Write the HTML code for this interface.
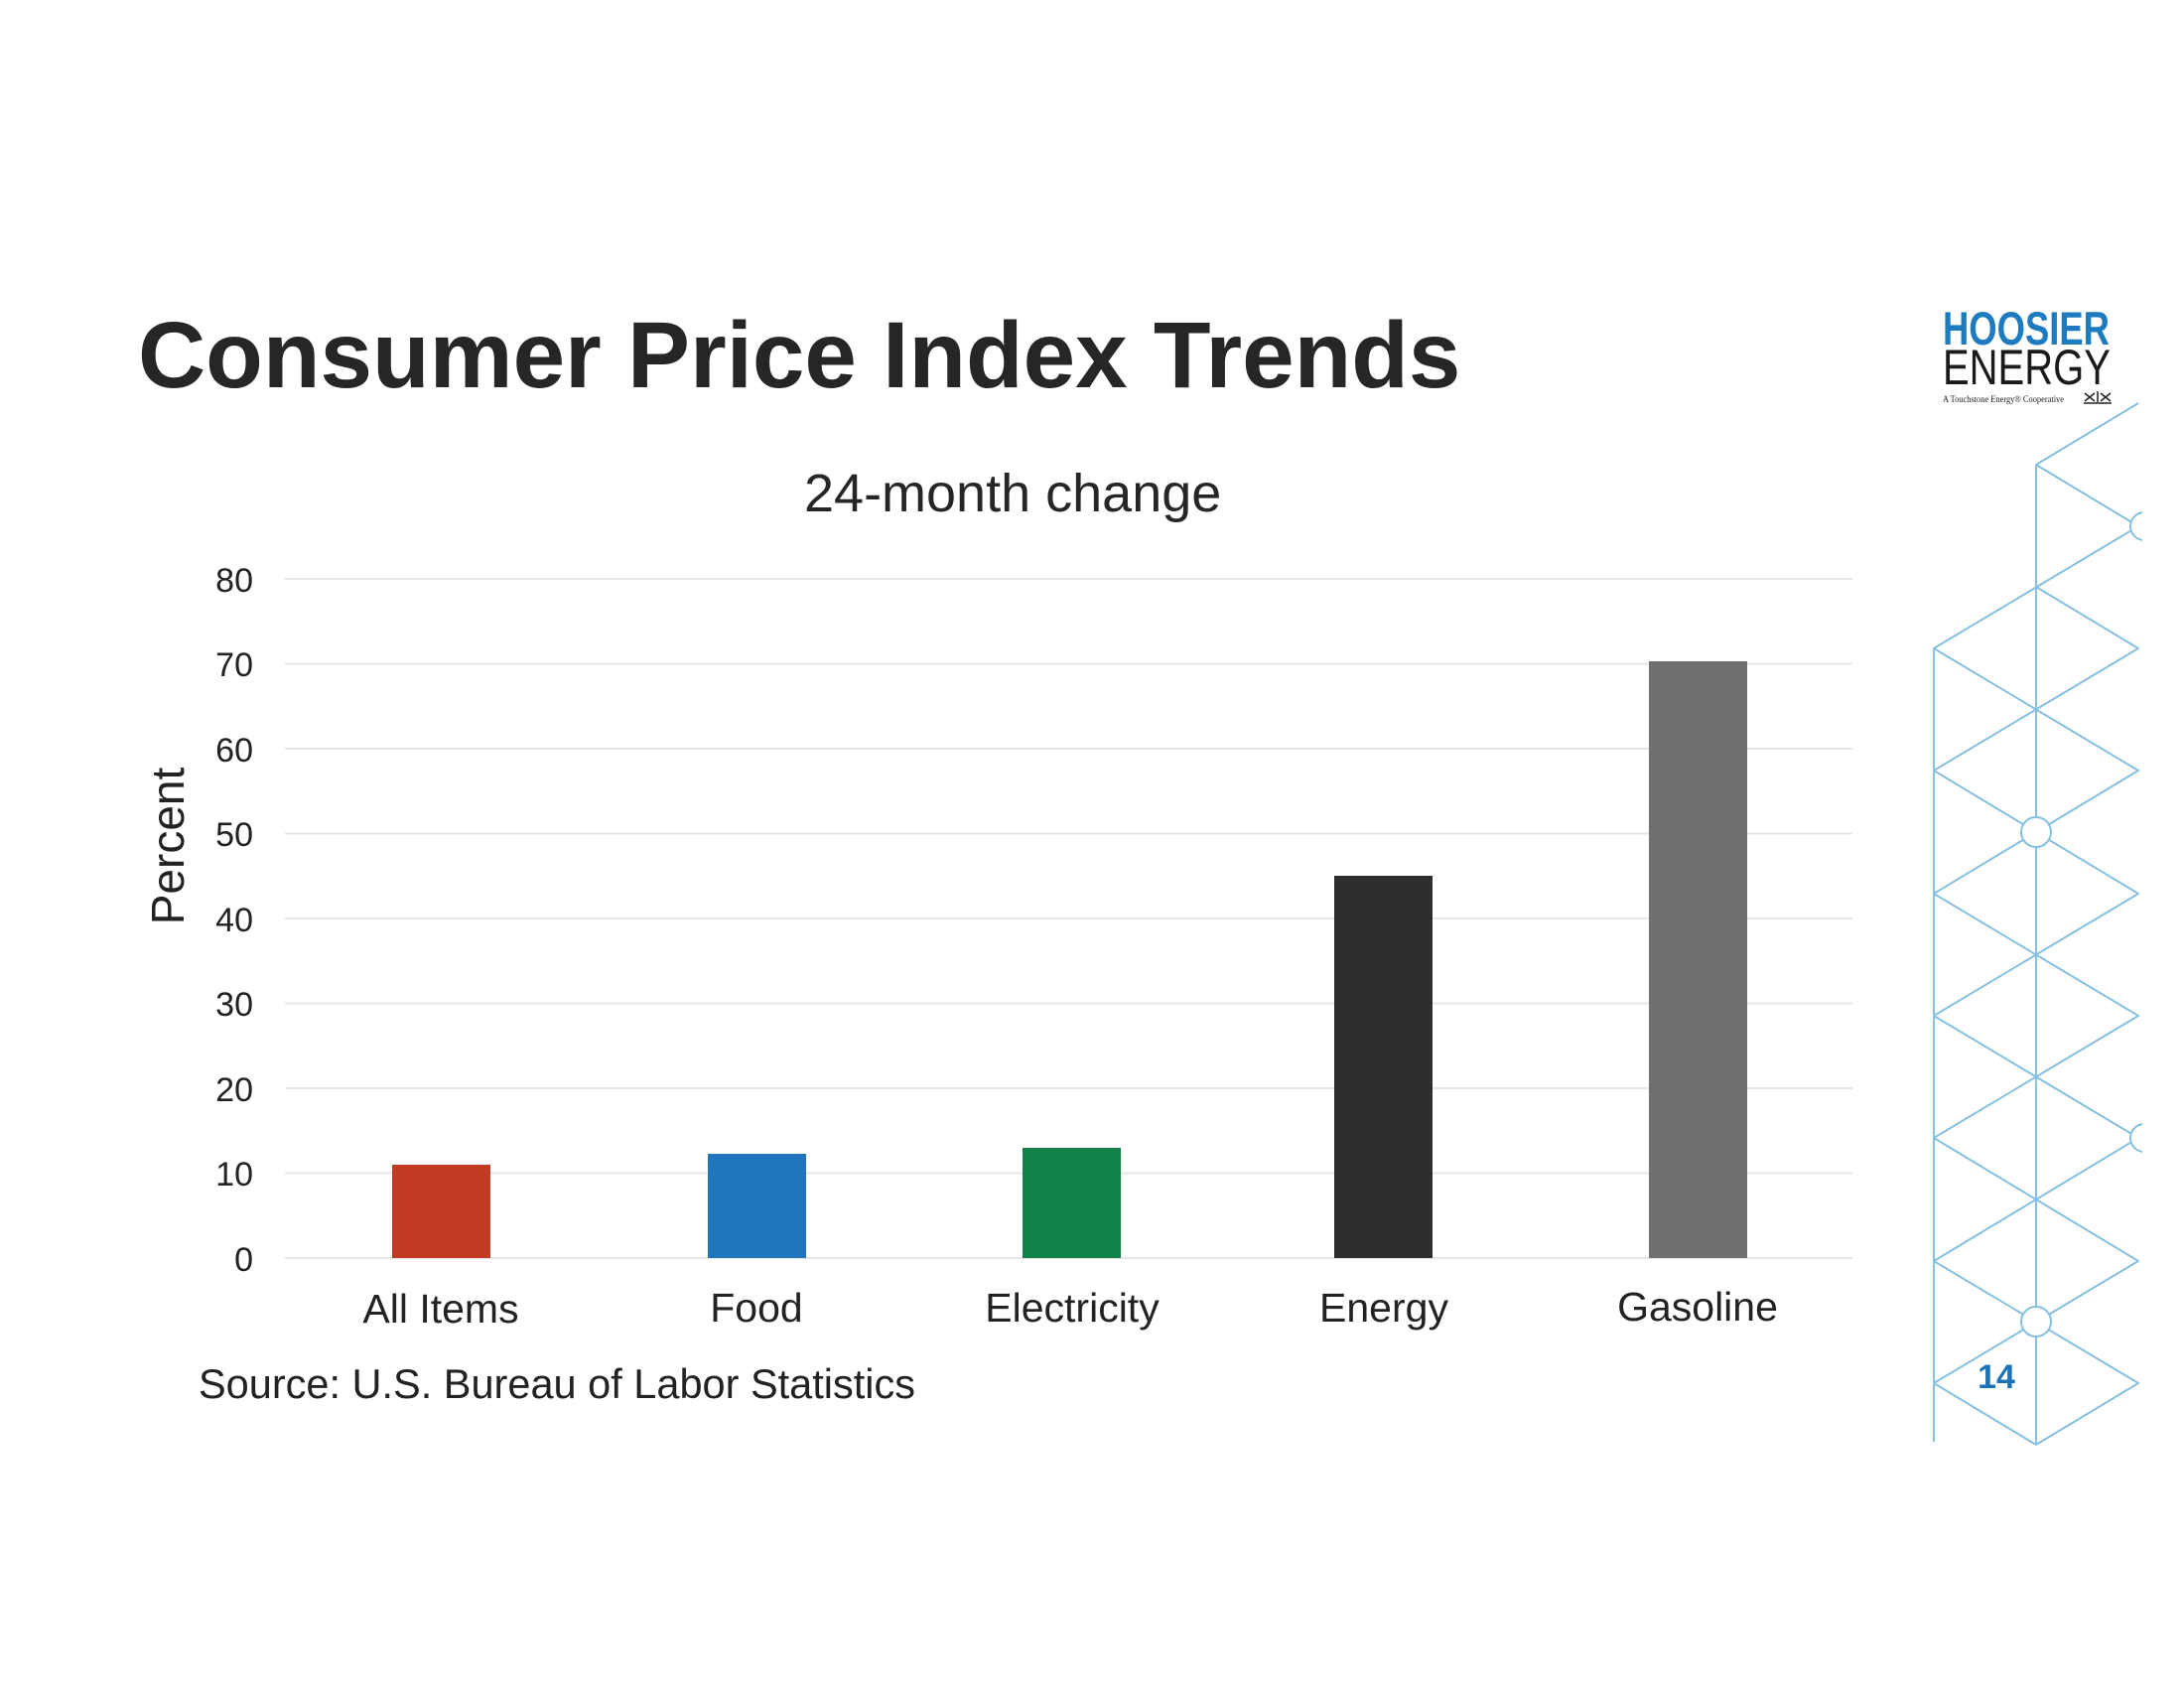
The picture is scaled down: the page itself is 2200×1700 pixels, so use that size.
<!DOCTYPE html>
<html>
<head>
<meta charset="utf-8">
<style>
html,body{margin:0;padding:0;background:#ffffff;}
body{width:2200px;height:1700px;overflow:hidden;}
svg{display:block;}
</style>
</head>
<body>
<svg width="2200" height="1700" viewBox="0 0 2200 1700" xmlns="http://www.w3.org/2000/svg">
  <rect x="0" y="0" width="2200" height="1700" fill="#ffffff"/>

  <!-- Title -->
  <text x="139" y="390" font-family="Liberation Sans, Arial, sans-serif" font-weight="bold" font-size="94.4" fill="#262626">Consumer Price Index Trends</text>

  <!-- Subtitle -->
  <text x="810" y="515" font-family="Liberation Sans, Arial, sans-serif" font-size="54" fill="#262626">24-month change</text>

  <!-- Gridlines -->
  <g stroke="#e6e6e6" stroke-width="2">
    <line x1="287" y1="583" x2="1866" y2="583"/>
    <line x1="287" y1="668.5" x2="1866" y2="668.5"/>
    <line x1="287" y1="754" x2="1866" y2="754"/>
    <line x1="287" y1="839.5" x2="1866" y2="839.5"/>
    <line x1="287" y1="925" x2="1866" y2="925"/>
    <line x1="287" y1="1010.5" x2="1866" y2="1010.5"/>
    <line x1="287" y1="1096" x2="1866" y2="1096"/>
    <line x1="287" y1="1181.5" x2="1866" y2="1181.5"/>
    <line x1="287" y1="1267" x2="1866" y2="1267"/>
  </g>

  <!-- Y tick labels -->
  <g font-family="Liberation Sans, Arial, sans-serif" font-size="34" fill="#222" text-anchor="end">
    <text x="255" y="596">80</text>
    <text x="255" y="681">70</text>
    <text x="255" y="767">60</text>
    <text x="255" y="852">50</text>
    <text x="255" y="938">40</text>
    <text x="255" y="1023">30</text>
    <text x="255" y="1109">20</text>
    <text x="255" y="1194">10</text>
    <text x="255" y="1280">0</text>
  </g>

  <!-- Y axis title -->
  <text transform="translate(185,852) rotate(-90)" font-family="Liberation Sans, Arial, sans-serif" font-size="46" fill="#222" text-anchor="middle">Percent</text>

  <!-- Bars -->
  <rect x="395" y="1173" width="99" height="94" fill="#c33b25"/>
  <rect x="713" y="1162" width="99" height="105" fill="#1f76bd"/>
  <rect x="1030" y="1156" width="99" height="111" fill="#13814a"/>
  <rect x="1344" y="882" width="99" height="385" fill="#2d2f2e"/>
  <rect x="1661" y="666" width="99" height="601" fill="#6f7171"/>

  <!-- X labels -->
  <g font-family="Liberation Sans, Arial, sans-serif" font-size="41" fill="#222" text-anchor="middle">
    <text x="444" y="1332">All Items</text>
    <text x="762" y="1331">Food</text>
    <text x="1080" y="1331">Electricity</text>
    <text x="1394" y="1331">Energy</text>
    <text x="1710" y="1330">Gasoline</text>
  </g>

  <!-- Source -->
  <text x="200" y="1408" font-family="Liberation Sans, Arial, sans-serif" font-size="41.5" fill="#222">Source: U.S. Bureau of Labor Statistics</text>

  <!-- Logo -->
  <text transform="translate(1957,347) scale(0.775,1)" font-family="Liberation Sans, Arial, sans-serif" font-weight="bold" font-size="47" fill="#1f7bbf">HOOSIER</text>
  <text transform="translate(1957,387) scale(0.8,1)" font-family="Liberation Sans, Arial, sans-serif" font-size="50" fill="#1a1a1a">ENERGY</text>
  <text x="1957" y="405" font-family="Liberation Serif, serif" font-size="9" fill="#222" textLength="122" lengthAdjust="spacingAndGlyphs">A Touchstone Energy® Cooperative</text>
  <g stroke="#222" stroke-width="1.5" fill="none">
    <path d="M2100 396 L2110 404 M2100 404 L2110 396 M2113 394 L2113 405 M2116 396 L2126 404 M2116 404 L2126 396 M2099 406 L2127 406"/>
  </g>

  <!-- Lattice decoration -->
  <g stroke="#86c0e2" stroke-width="2" fill="none" stroke-linejoin="round">
    <line x1="1948" y1="653" x2="1948" y2="1452"/>
    <line x1="2051" y1="468" x2="2051" y2="1455"/>
    <line x1="2051" y1="468" x2="2154" y2="406"/>
    <polyline points="2051,468 2154,530 1948,653 2154,776 1948,900 2154,1023 1948,1146 2154,1270 1948,1393 2051,1455"/>
    <polyline points="2051,591 2154,653 1948,776 2154,900 1948,1023 2154,1146 1948,1270 2154,1393 2051,1455"/>
  </g>
  <g stroke="#86c0e2" stroke-width="2" fill="#ffffff">
    <circle cx="2051" cy="838" r="15"/>
    <circle cx="2051" cy="1331" r="15"/>
    <path d="M2160 516 A14 14 0 0 0 2160 544" />
    <path d="M2160 1132 A14 14 0 0 0 2160 1160" />
  </g>
  <rect x="2158" y="380" width="42" height="1100" fill="#ffffff"/>

  <!-- Page number -->
  <text x="2011" y="1398" font-family="Liberation Sans, Arial, sans-serif" font-weight="bold" font-size="34" fill="#1d72b5" text-anchor="middle">14</text>
</svg>
</body>
</html>
